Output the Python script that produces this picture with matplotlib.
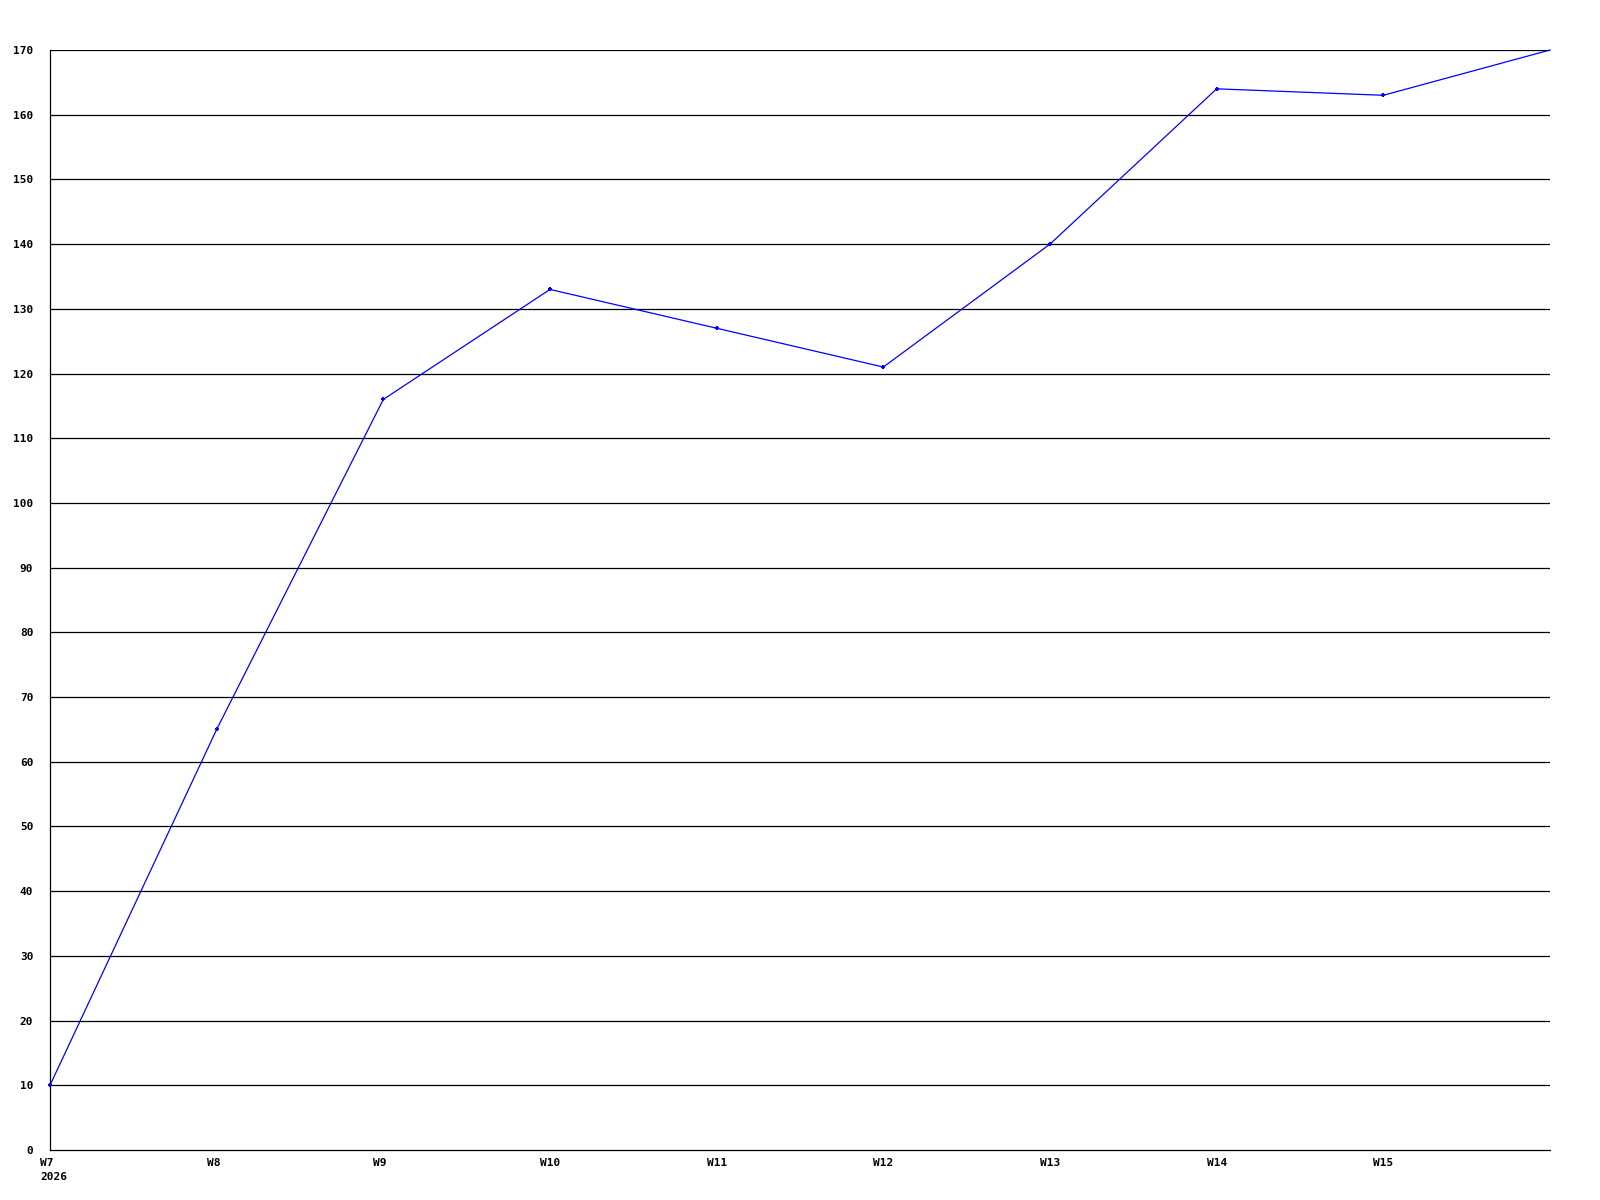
import matplotlib
matplotlib.use("Agg")
import matplotlib.pyplot as plt
import matplotlib.transforms as mtransforms

weeks = ["W7", "W8", "W9", "W10", "W11", "W12", "W13", "W14", "W15", "W16"]
values = [10, 65, 116, 133, 127, 121, 140, 164, 163, 170]
year = "2026"
yticks = list(range(0, 171, 10))

fig = plt.figure(figsize=(16, 12), dpi=100)
ax = fig.add_axes([50 / 1600, 50 / 1200, 1500 / 1600, 1100 / 1200])

x = list(range(len(weeks)))
# last point has no marker in the original
ax.plot(x, values, color="#0000ff", linewidth=0.9, marker="+", markersize=3,
        markeredgewidth=1.5, markevery=list(range(len(weeks) - 1)),
        zorder=3, clip_on=False)

for v in yticks[1:]:
    ax.axhline(v, color="black", linewidth=0.9, zorder=1)

ax.set_xlim(0, len(weeks) - 1)
ax.set_ylim(0, 170)
ax.spines["right"].set_visible(False)
ax.spines["top"].set_visible(False)
for s in ("left", "bottom"):
    ax.spines[s].set_linewidth(0.9)

font = dict(family="DejaVu Sans Mono", weight="bold", size=8)

ax.set_yticks(yticks)
ax.set_yticklabels([str(v) for v in yticks], **font)
ax.tick_params(axis="y", length=0, pad=12)

labels = [w for w in weeks[:-1]]
labels[0] = labels[0] + "\n" + year
ax.set_xticks(x[:-1])
ax.set_xticklabels(labels, ha="left", va="top", linespacing=1.5, **font)
ax.tick_params(axis="x", length=0, pad=6)
offset = mtransforms.ScaledTranslation(-10 / 100, 0, fig.dpi_scale_trans)
for lbl in ax.get_xticklabels():
    lbl.set_transform(lbl.get_transform() + offset)

fig.savefig("out.png", dpi=100, facecolor="white")
